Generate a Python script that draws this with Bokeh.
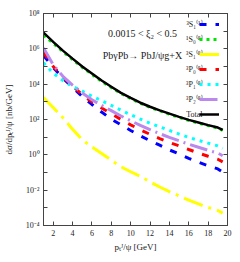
from bokeh.plotting import figure
from bokeh.models import (FixedTicker, Legend, LegendItem, Label, CustomJSTickFormatter,
                          LogAxis, LinearAxis)
from bokeh.embed import file_html
from bokeh.resources import INLINE

# ---- data ----
pt = [1, 2, 3, 4, 5, 6, 7, 8, 9, 10, 11, 12, 13, 14, 15, 16, 17, 18, 19, 19.5]

s1_1 = [4.2e5, 8.9e4, 2.2e4, 6.6e3, 2.0e3, 710, 263, 105, 50, 24, 12, 6.3, 3.5,
        1.9, 1.12, 0.63, 0.38, 0.24, 0.16, 0.107]
s0_8 = [6.0e6, 2.1e6, 7.1e5, 2.5e5, 9.1e4, 3.6e4, 1.45e4, 6.5e3, 2.95e3, 1.55e3,
        832, 490, 309, 200, 132, 89, 63, 45, 33, 24.5]
s1_8 = [1.74e3, 480, 126, 28, 7.1, 2.8, 1.2, 0.5, 0.21, 0.11, 0.06, 0.0295,
        0.0151, 0.0083, 0.0047, 0.00275, 0.00166, 0.00105, 0.00071, 0.0005]
p0_8 = [6.3e5, 1.0e5, 2.5e4, 7.9e3, 2.5e3, 1.0e3, 447, 214, 100, 50, 26, 14.5,
        8.3, 5.0, 3.2, 2.0, 1.26, 0.83, 0.56, 0.4]
p1_8 = [1.6e5, 4.2e4, 1.6e4, 7.6e3, 4.0e3, 2.1e3, 1.15e3, 630, 340, 186, 105, 62,
        38, 24, 15, 9.8, 6.6, 4.6, 3.2, 2.3]
p2_8 = [1.12e6, 1.26e5, 2.8e4, 8.9e3, 3.2e3, 1.32e3, 630, 316, 158, 85, 47, 27,
        15.8, 9.8, 6.3, 4.0, 2.7, 1.8, 1.26, 0.89]
total = [8.3e6, 2.5e6, 7.9e5, 2.8e5, 1.0e5, 4.0e4, 1.6e4, 7.1e3, 3.2e3, 1.66e3,
         890, 525, 331, 214, 141, 95, 68, 48, 35, 26]

labels = ["³S₁⁽¹⁾", "¹S₀⁽⁸⁾", "³S₁⁽⁸⁾", "³P₀⁽⁸⁾", "³P₁⁽⁸⁾", "³P₂⁽⁸⁾", "Total"]
series = [s1_1, s0_8, s1_8, p0_8, p1_8, p2_8, total]
colors = ["#0000ff", "#00e600", "#ffff00", "#ff0000", "#00ffff", "#bb88ee", "#000000"]
dashes = ["7 9", "3 4", "20 6 3 6", "7 9", "3 5", "18 5 2 5", "solid"]
widths = [3, 3, 3, 3, 3, 3, 2.5]

x_ticks = [2, 4, 6, 8, 10, 12, 14, 16, 18, 20]
y_ticks = [10.0 ** k for k in range(-4, 9)]

FONT = "Liberation Serif"

p = figure(width=240, height=262, x_range=(1, 20), y_range=(1e-4, 1e8),
           y_axis_type="log", output_backend="svg", toolbar_location=None,
           min_border_left=36, min_border_right=13, min_border_top=13,
           min_border_bottom=37)
p.xgrid.visible = False
p.ygrid.visible = False
p.outline_line_color = "#444444"
p.background_fill_color = "white"
p.border_fill_color = "white"

fmt = CustomJSTickFormatter(code="""
const e = Math.round(Math.log10(tick));
if (e % 2 != 0) return "";
const sup = {"-":"⁻","0":"⁰","1":"¹","2":"²","3":"³","4":"⁴","5":"⁵","6":"⁶","7":"⁷","8":"⁸","9":"⁹"};
return "10" + String(e).split("").map(c => sup[c]).join("");
""")

yax = p.yaxis[0]
yax.ticker = FixedTicker(ticks=y_ticks, minor_ticks=[])
yax.formatter = fmt
xax = p.xaxis[0]
xax.ticker = FixedTicker(ticks=x_ticks, minor_ticks=[])

for ax in (xax, yax):
    ax.major_tick_in = 4
    ax.major_tick_out = 0
    ax.minor_tick_in = 0
    ax.minor_tick_out = 0
    ax.axis_line_color = "#444444"
    ax.major_tick_line_color = "#444444"
    ax.major_label_text_font = FONT
    ax.major_label_text_font_size = "8px"
    ax.major_label_text_color = "#222222"
    ax.axis_label_text_font = FONT
    ax.axis_label_text_font_size = "9px"
    ax.axis_label_text_font_style = "normal"
    ax.axis_label_text_color = "#222222"

yax.major_label_standoff = 4
yax.axis_label_standoff = 9
yax.axis_label = "dσ/dpₜᴶ/ψ [nb/GeV]"
xax.major_label_standoff = 4
xax.axis_label_standoff = 3
xax.axis_label = "pₜᴶ/ψ [GeV]"

# mirrored tick marks on the right and top edges (no labels)
blank = CustomJSTickFormatter(code="return '';")
rax = LogAxis(ticker=FixedTicker(ticks=y_ticks, minor_ticks=[]), formatter=blank)
tax = LinearAxis(ticker=FixedTicker(ticks=x_ticks, minor_ticks=[]), formatter=blank)
for ax in (rax, tax):
    ax.major_tick_in = 4
    ax.major_tick_out = 0
    ax.minor_tick_in = 0
    ax.minor_tick_out = 0
    ax.major_label_standoff = 0
    ax.major_label_text_font_size = "8px"
    ax.axis_line_color = "#444444"
    ax.major_tick_line_color = "#444444"
p.add_layout(rax, "right")
p.add_layout(tax, "above")

renderers = []
for ys, c, d, w in zip(series, colors, dashes, widths):
    r = p.line(pt, ys, line_color=c, line_dash=d, line_width=w)
    renderers.append(r)

legend = Legend(items=[LegendItem(label=" ", renderers=[r]) for r in renderers],
                location="top_right", glyph_width=20, glyph_height=12, spacing=3,
                label_standoff=2, label_width=1, label_height=1, padding=5, margin=0,
                border_line_alpha=0, background_fill_alpha=0,
                label_text_font_size="8px")
p.add_layout(legend)

for i, t in enumerate(labels):
    p.add_layout(Label(x=159, y=201 - 15 * i, x_units="screen", y_units="screen",
                       text=t, text_align="right", text_baseline="middle",
                       text_font=FONT, text_font_size="8px", text_color="#222222"))

p.add_layout(Label(x=99, y=192, x_units="screen", y_units="screen",
                   text="0.0015 < ξ₂ < 0.5", text_align="center",
                   text_baseline="middle", text_font=FONT, text_font_size="10px",
                   text_color="#222222"))
p.add_layout(Label(x=99, y=170, x_units="screen", y_units="screen",
                   text="PbγPb→ PbJ/ψg+X", text_align="center",
                   text_baseline="middle", text_font=FONT, text_font_size="10px",
                   text_color="#222222"))

open("out.html", "w").write(file_html(p, INLINE))
